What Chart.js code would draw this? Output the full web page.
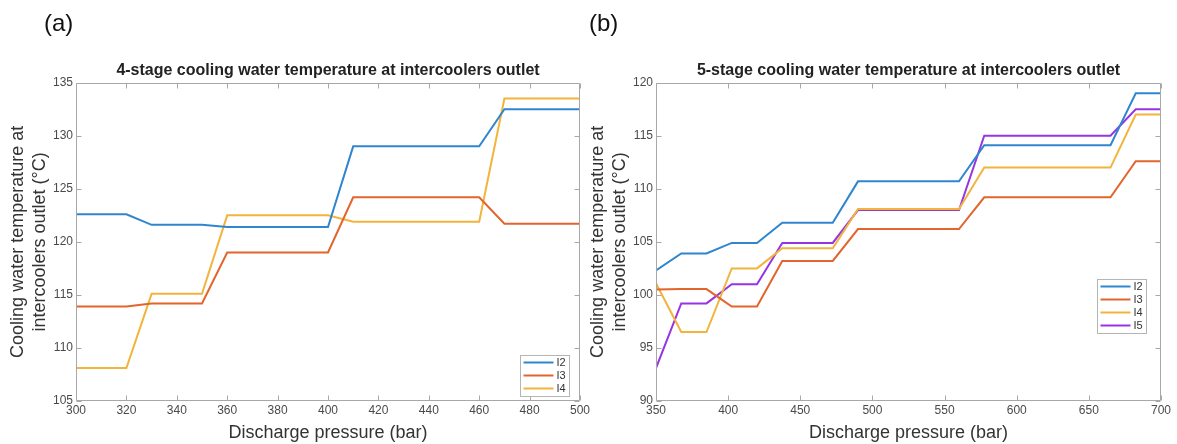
<!DOCTYPE html>
<html><head><meta charset="utf-8">
<script src="https://cdn.jsdelivr.net/npm/chart.js@4.4.1/dist/chart.umd.min.js"></script>
<style>
html,body{margin:0;padding:0;background:#fff;}
#wrap{position:relative;width:1177px;height:444px;overflow:hidden;background:#fff;}
canvas{position:absolute;left:0;top:0;}
.lab{position:absolute;font-family:"Liberation Sans",Arial,sans-serif;font-size:24px;color:#111;line-height:1;}
</style></head><body>
<div id="wrap">
<canvas id="c4" width="1177" height="444"></canvas>
<canvas id="c5" width="1177" height="444"></canvas>
<div class="lab" style="left:44px;top:11px">(a)</div>
<div class="lab" style="left:589px;top:11px">(b)</div>
</div>
<script>
// ---- data: 4-stage (a) ----
const pressure4 = [300, 320, 330, 350, 360, 400, 410, 460, 470, 500];
const I2_4 = [122.6, 122.6, 121.6, 121.6, 121.4, 121.4, 129.0, 129.0, 132.5, 132.5];
const I3_4 = [113.9, 113.9, 114.2, 114.2, 119.0, 119.0, 124.2, 124.2, 121.7, 121.7];
const I4_4 = [108.1, 108.1, 115.1, 115.1, 122.5, 122.5, 121.9, 121.9, 133.5, 133.5];
// ---- data: 5-stage (b) ----
const pressure5 = [350, 367.5, 385, 402.5, 420, 437.5, 472.5, 490, 560, 577.5, 665, 682.5, 700];
const I2_5 = [102.3, 103.9, 103.9, 104.9, 104.9, 106.8, 106.8, 110.7, 110.7, 114.1, 114.1, 119.0, 119.0];
const I3_5 = [100.5, 100.55, 100.55, 98.9, 98.9, 103.2, 103.2, 106.2, 106.2, 109.2, 109.2, 112.6, 112.6];
const I4_5 = [101.1, 96.5, 96.5, 102.5, 102.5, 104.4, 104.4, 108.1, 108.1, 112.0, 112.0, 117.0, 117.0];
const I5_5 = [93.1, 99.2, 99.2, 101.0, 101.0, 104.9, 104.9, 108.0, 108.0, 115.0, 115.0, 117.5, 117.5];
// ---- labels ----
const seriesNames4 = ['I2', 'I3', 'I4'];
const seriesNames5 = ['I2', 'I3', 'I4', 'I5'];
const title4 = '4-stage cooling water temperature at intercoolers outlet';
const title5 = '5-stage cooling water temperature at intercoolers outlet';
const xTitle = 'Discharge pressure (bar)';
const yTitle = ['Cooling water temperature at', 'intercoolers outlet (°C)'];
const xRange4 = [300, 500, 20], yRange4 = [105, 135, 5];
const xRange5 = [350, 700, 50], yRange5 = [90, 120, 5];

const COLORS = ['#2f86cf', '#e2652b', '#f2b43c', '#9734e4'];
const FAMILY = "'Liberation Sans', Arial, sans-serif";
Chart.defaults.font.family = FAMILY;

const frameTicks = {
  id: 'frameTicks',
  afterDatasetsDraw(chart, args, o) {
    const {ctx, chartArea: a, scales} = chart;
    const l = Math.round(a.left) + 0.5, r = Math.round(a.right) - 0.5;
    const t = Math.round(a.top) + 0.5, b = Math.round(a.bottom) - 0.5;
    ctx.save();
    ctx.strokeStyle = o.color; ctx.lineWidth = 1;
    ctx.beginPath();
    ctx.rect(l, t, r - l, b - t);
    const L = o.length;
    scales.x.ticks.forEach(tk => {
      const px = Math.round(scales.x.getPixelForValue(tk.value)) + 0.5;
      ctx.moveTo(px, b); ctx.lineTo(px, b - L);
      ctx.moveTo(px, t); ctx.lineTo(px, t + L);
    });
    scales.y.ticks.forEach(tk => {
      const py = Math.round(scales.y.getPixelForValue(tk.value)) + 0.5;
      ctx.moveTo(l, py); ctx.lineTo(l + L, py);
      ctx.moveTo(r, py); ctx.lineTo(r - L, py);
    });
    ctx.stroke();
    ctx.restore();
  }
};

const boxLegend = {
  id: 'boxLegend',
  afterDraw(chart, args, o) {
    const {ctx, chartArea: a} = chart;
    const ds = chart.data.datasets;
    ctx.save();
    ctx.font = o.font;
    const tw = Math.max(...ds.map(d => ctx.measureText(d.label).width));
    const w = Math.round(o.padL + o.lineLen + o.gap + tw + o.padR);
    const h = o.rowH * ds.length + o.padV * 2;
    const x = Math.round(a.right - o.rightGap - w);
    const y = Math.round(o.fromBottom != null ? a.bottom - o.fromBottom - h : a.top + o.top);
    ctx.fillStyle = '#fff'; ctx.fillRect(x, y, w, h);
    ctx.strokeStyle = o.border; ctx.lineWidth = 1;
    ctx.strokeRect(x + 0.5, y + 0.5, w, h);
    ds.forEach((d, i) => {
      const cy = y + o.padV + o.rowH * (i + 0.5);
      ctx.strokeStyle = d.borderColor; ctx.lineWidth = d.borderWidth;
      ctx.beginPath(); ctx.moveTo(x + o.padL, cy); ctx.lineTo(x + o.padL + o.lineLen, cy); ctx.stroke();
      ctx.fillStyle = o.color; ctx.textBaseline = 'middle'; ctx.textAlign = 'left';
      ctx.fillText(d.label, x + o.padL + o.lineLen + o.gap, cy + 0.5);
    });
    ctx.restore();
  }
};

function build(id, xs, seriesList, names, xr, yr, padLeft, padRight, title, legend) {
  const datasets = seriesList.map((vals, i) => ({
    label: names[i],
    data: xs.map((x, k) => ({x: x, y: vals[k]})),
    borderColor: COLORS[i],
    backgroundColor: COLORS[i],
    borderWidth: 2,
    pointRadius: 0,
    tension: 0,
    fill: false
  }));
  return new Chart(document.getElementById(id), {
    type: 'line',
    data: {datasets},
    plugins: [frameTicks, boxLegend],
    options: {
      responsive: false, animation: false, devicePixelRatio: 1,
      layout: {padding: {left: padLeft, right: padRight, top: 0, bottom: 0}},
      plugins: {
        legend: {display: false},
        tooltip: {enabled: false},
        title: {display: true, text: title, fullSize: false, color: '#222',
          font: {size: 16, weight: 'bold', lineHeight: 1.2},
          padding: {top: 60.5, bottom: 3}},
        frameTicks: {color: '#a8a8a8', length: 5},
        boxLegend: legend
      },
      scales: {
        x: {type: 'linear', min: xr[0], max: xr[1],
          afterFit: s => { s.height = 43; },
          grid: {display: false, drawTicks: false}, border: {display: false},
          ticks: {stepSize: xr[2], padding: 2, color: '#4a4a4a', font: {size: 12}, maxRotation: 0},
          title: {display: true, text: xTitle, color: '#333', font: {size: 18, lineHeight: 1.2}, padding: {top: 5, bottom: 0}}},
        y: {type: 'linear', min: yr[0], max: yr[1],
          afterFit: s => { s.width = 76; },
          grid: {display: false, drawTicks: false}, border: {display: false},
          ticks: {stepSize: yr[2], padding: 3, color: '#4a4a4a', font: {size: 12}},
          title: {display: true, text: yTitle, color: '#333', font: {size: 18, lineHeight: 22 / 18}, padding: {top: 7.3, bottom: 1.7}}}
      }
    }
  });
}

build('c4', pressure4, [I2_4, I3_4, I4_4], seriesNames4, xRange4, yRange4, 0, 597, title4,
  {font: "11px " + FAMILY, color: '#333', border: '#b5b5b5', padL: 3.5, lineLen: 30, gap: 3, padR: 3, rowH: 13, padV: 1, rightGap: 11, fromBottom: 5});
build('c5', pressure5, [I2_5, I3_5, I4_5, I5_5], seriesNames5, xRange5, yRange5, 580, 16, title5,
  {font: "11px " + FAMILY, color: '#333', border: '#b5b5b5', padL: 3.5, lineLen: 30, gap: 3, padR: 3, rowH: 13, padV: 1, rightGap: 15, top: 196});
</script>
</body></html>
